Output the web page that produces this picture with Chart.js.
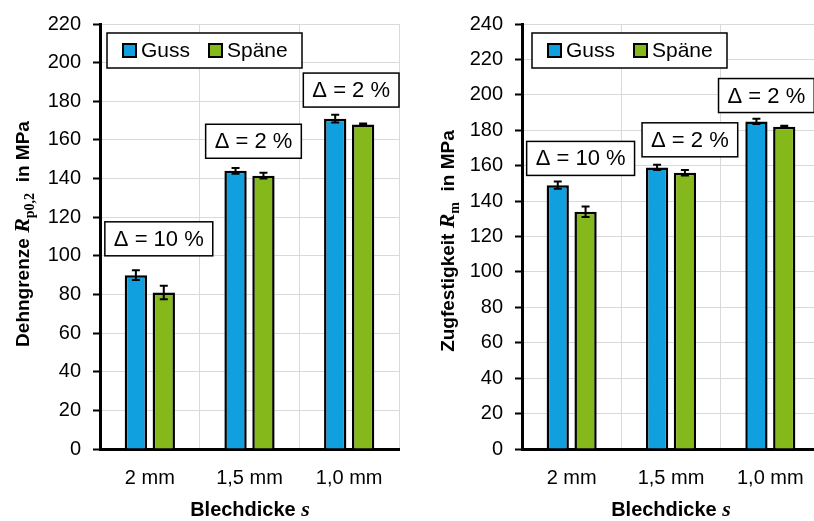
<!DOCTYPE html>
<html>
<head>
<meta charset="utf-8">
<script src="https://cdn.jsdelivr.net/npm/chart.js@4"></script>
<style>
  body { margin: 0; width: 814px; height: 521px; overflow: hidden; position: relative; background: #fff; font-family: "Liberation Sans", Arial, sans-serif; }
  .box { position: absolute; top: 0; height: 521px; }
  .ytitle { position: absolute; width: 400px; height: 26px; line-height: 26px; text-align: center; font-weight: bold; font-size: 19px; transform: rotate(-90deg); white-space: nowrap; }
  .xtitle { position: absolute; width: 300px; height: 26px; line-height: 26px; text-align: center; font-weight: bold; font-size: 20px; white-space: nowrap; }
  .ser { font-family: "Liberation Serif", "Times New Roman", serif; font-style: italic; font-size: 22px; }
  .sub { font-family: "Liberation Serif", "Times New Roman", serif; font-size: 14px; font-weight: bold; vertical-align: -5px; }
</style>
</head>
<body>
<div class="box" style="left:0;width:405px"><canvas id="left"></canvas></div>
<div class="box" style="left:405px;width:420px"><canvas id="right"></canvas></div>

<div class="ytitle" style="left:-178px;top:221px">Dehngrenze <span class="ser">R</span><span class="sub">p0,2</span>&nbsp; in MPa</div>
<div class="ytitle" style="left:247px;top:228px">Zugfestigkeit <span class="ser">R</span><span class="sub">m</span>&nbsp; in MPa</div>
<div class="xtitle" style="left:100px;top:496px">Blechdicke <span class="ser">s</span></div>
<div class="xtitle" style="left:521px;top:496px">Blechdicke <span class="ser">s</span></div>

<script>
const categories = ['2 mm', '1,5 mm', '1,0 mm'];
const seriesNames = ['Guss', 'Späne'];

// Dehngrenze Rp0,2
const rpGuss = [90, 144, 171];
const rpSpaene = [81, 141.5, 168];
const rpGussErr = [2.5, 1.5, 2];
const rpSpaeneErr = [3.5, 1.5, 0.5];
const rpDelta = ['Δ = 10 %', 'Δ = 2 %', 'Δ = 2 %'];

// Zugfestigkeit Rm
const rmGuss = [149, 159, 185];
const rmSpaene = [134, 156, 182];
const rmGussErr = [2, 1.5, 1.5];
const rmSpaeneErr = [3, 1.5, 0.5];
const rmDelta = ['Δ = 10 %', 'Δ = 2 %', 'Δ = 2 %'];

const BLUE = '#10a0e0';
const GREEN = '#85b81a';
const FONT = '"Liberation Sans", Arial, sans-serif';

// error bars, legend box and delta labels
const overlay = {
  id: 'overlay',
  afterDatasetsDraw(chart, args, opts) {
    const ctx = chart.ctx;
    const xs = chart.scales.x, ys = chart.scales.y;
    const area = chart.chartArea;
    ctx.save();

    // error bars
    ctx.strokeStyle = '#000';
    ctx.lineWidth = 2;
    opts.errors.forEach((errs, di) => {
      const meta = chart.getDatasetMeta(di);
      meta.data.forEach((bar, i) => {
        const v = chart.data.datasets[di].data[i];
        const t = ys.getPixelForValue(v + errs[i]);
        const b = ys.getPixelForValue(v - errs[i]);
        ctx.beginPath();
        ctx.moveTo(bar.x, t); ctx.lineTo(bar.x, b);
        ctx.moveTo(bar.x - 4, t); ctx.lineTo(bar.x + 4, t);
        ctx.moveTo(bar.x - 4, b); ctx.lineTo(bar.x + 4, b);
        ctx.stroke();
      });
    });

    // legend
    const lx = area.left + opts.legendDx, ly = area.top + 9;
    ctx.fillStyle = '#fff';
    ctx.fillRect(lx, ly, 195, 35);
    ctx.lineWidth = 1.5;
    ctx.strokeRect(lx, ly, 195, 35);
    ctx.font = '21px ' + FONT;
    ctx.textBaseline = 'middle';
    ctx.textAlign = 'left';
    chart.data.datasets.forEach((ds, di) => {
      const sx = lx + 16 + di * 86;
      ctx.fillStyle = ds.backgroundColor;
      ctx.fillRect(sx, ly + 11, 13, 13);
      ctx.lineWidth = 2;
      ctx.strokeRect(sx, ly + 11, 13, 13);
      ctx.fillStyle = '#000';
      ctx.fillText(ds.label, sx + 18, ly + 18);
    });

    // delta labels
    ctx.font = '22px ' + FONT;
    ctx.textAlign = 'center';
    opts.deltas.forEach((txt, i) => {
      const cx = xs.getPixelForValue(opts.deltaX[i]);
      const bottom = ys.getPixelForValue(opts.deltaY[i]);
      const w = ctx.measureText(txt).width + 18;
      ctx.fillStyle = '#fff';
      ctx.fillRect(cx - w / 2, bottom - 34, w, 34);
      ctx.lineWidth = 1.5;
      ctx.strokeStyle = '#000';
      ctx.strokeRect(cx - w / 2, bottom - 34, w, 34);
      ctx.fillStyle = '#000';
      ctx.fillText(txt, cx, bottom - 16);
    });
    ctx.restore();
  }
};

function makeChart(id, guss, spaene, errs, deltas, deltaX, deltaY, yMax, yWidth, padRight, legendDx) {
  return new Chart(document.getElementById(id), {
    type: 'bar',
    data: {
      labels: categories,
      datasets: [{
        label: seriesNames[0],
        data: guss,
        backgroundColor: BLUE,
        borderColor: '#000',
        borderWidth: 2.5,
        categoryPercentage: 0.56,
        barPercentage: 0.8
      }, {
        label: seriesNames[1],
        data: spaene,
        backgroundColor: GREEN,
        borderColor: '#000',
        borderWidth: 2.5,
        categoryPercentage: 0.56,
        barPercentage: 0.8
      }]
    },
    options: {
      responsive: false,
      animation: false,
      layout: { padding: { top: 19, right: padRight, left: 0, bottom: 0 } },
      plugins: {
        legend: { display: false },
        tooltip: { enabled: false },
        overlay: { errors: errs, deltas: deltas, deltaX: deltaX, deltaY: deltaY, legendDx: legendDx }
      },
      scales: {
        x: {
          grid: { color: '#d9d9d9', drawTicks: false, offset: true },
          border: { color: '#000', width: 3 },
          ticks: { color: '#000', font: { family: FONT, size: 20 }, padding: 17 },
          afterFit(s) { s.height = 72; }
        },
        y: {
          min: 0,
          max: yMax,
          ticks: { stepSize: 20, color: '#000', font: { family: FONT, size: 20 }, padding: 12 },
          grid: { color: '#d9d9d9', tickColor: '#000', tickWidth: 2, tickLength: 7 },
          border: { color: '#000', width: 3 },
          afterFit(s) { s.width = yWidth; }
        }
      }
    },
    plugins: [overlay]
  });
}

document.getElementById('left').width = 405;
document.getElementById('left').height = 521;
document.getElementById('right').width = 420;
document.getElementById('right').height = 521;

makeChart('left', rpGuss, rpSpaene, [rpGussErr, rpSpaeneErr], rpDelta,
  [0.09, 1.04, 2.02], [100, 150.5, 177], 220, 100, 6, 7);
makeChart('right', rmGuss, rmSpaene, [rmGussErr, rmSpaeneErr], rmDelta,
  [0.09, 1.19, 1.96], [154.5, 165, 190], 240, 117, 5, 10);
</script>
</body>
</html>
